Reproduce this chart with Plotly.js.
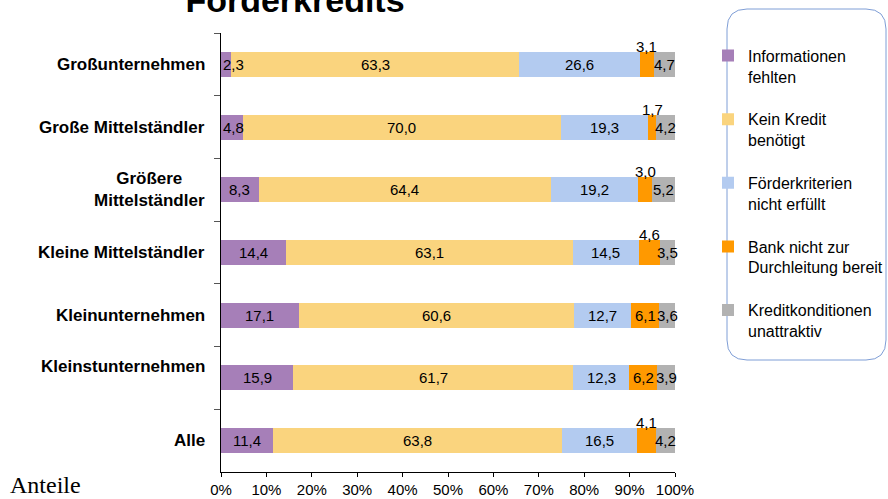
<!DOCTYPE html>
<html>
<head>
<meta charset="utf-8">
<script src="https://cdn.plot.ly/plotly-3.0.1.min.js"></script>
<style>html,body{margin:0;padding:0;background:#fff;}#chart{width:888px;height:499px;}</style>
</head>
<body>
<div id="chart"></div>
<script>
// Categories (top to bottom)
const categories = ['Großunternehmen','Große Mittelständler','Größere Mittelständler','Kleine Mittelständler','Kleinunternehmen','Kleinstunternehmen','Alle'];
const categoryLabels = ['Großunternehmen','Große Mittelständler','Größere<br>Mittelständler','Kleine Mittelständler','Kleinunternehmen','Kleinstunternehmen<br> ','Alle'];

// Series values (percent)
const informationenFehlten = [2.3, 4.8, 8.3, 14.4, 17.1, 15.9, 11.4];
const keinKreditBenoetigt  = [63.3, 70.0, 64.4, 63.1, 60.6, 61.7, 63.8];
const foerderkriterien     = [26.6, 19.3, 19.2, 14.5, 12.7, 12.3, 16.5];
const bankNichtBereit      = [3.1, 1.7, 3.0, 4.6, 6.1, 6.2, 4.1];
const konditionen          = [4.7, 4.2, 5.2, 3.5, 3.6, 3.9, 4.2];

const seriesNames = ['Informationen<br>fehlten','Kein Kredit<br>benötigt','Förderkriterien<br>nicht erfüllt','Bank nicht zur<br>Durchleitung bereit','Kreditkonditionen<br>unattraktiv'];
const xTickVals = [0,10,20,30,40,50,60,70,80,90,100];
const xTickText = ['0%','10%','20%','30%','40%','50%','60%','70%','80%','90%','100%'];

const seriesValues = [informationenFehlten, keinKreditBenoetigt, foerderkriterien, bankNichtBereit, konditionen];
const colors = ['#A67FB8','#FAD47E','#B3CBF0','#FF9900','#B2B2B2'];
const FONT = 'Arial, "Liberation Sans", sans-serif';

const traces = seriesValues.map((vals, i) => ({
  type: 'bar', orientation: 'h',
  y: categories, x: vals,
  name: seriesNames[i], legendgroup: 'g' + i,
  marker: {color: colors[i], line: {width: 0}},
  hoverinfo: 'skip'
}));

const fmt = v => v.toFixed(1).replace('.', ',');
const annotations = [];
categories.forEach((cat, ci) => {
  let start = 0;
  seriesValues.forEach((vals, si) => {
    const v = vals[ci];
    const center = start + v / 2;
    const a = {x: center, y: cat, xref: 'x', yref: 'y', text: fmt(v), showarrow: false,
      font: {family: FONT, size: 15, color: '#000'}, xanchor: 'center', yanchor: 'middle'};
    if (si === 0 && v < 5) { a.x = start; a.xanchor = 'left'; }
    if (si === 3 && v < 5) { a.yshift = 18; }
    annotations.push(a);
    start += v;
  });
  annotations.push({x: 0, y: cat, xref: 'paper', yref: 'y', text: '<b>' + categoryLabels[ci] + '</b>',
    showarrow: false, xanchor: 'right', yanchor: 'middle', align: 'center', xshift: -14,
    font: {family: FONT, size: 17, color: '#000'}});
});
annotations.push({x: 0, y: 0, xref: 'paper', yref: 'paper', text: 'Anteile', showarrow: false,
  xanchor: 'left', yanchor: 'middle', xshift: -213, yshift: -13,
  font: {family: '"Liberation Serif", "Times New Roman", serif', size: 24, color: '#000'}});

const layout = {
  width: 888, height: 499,
  margin: {l: 221, r: 213, t: 33, b: 27, autoexpand: false},
  paper_bgcolor: '#fff', plot_bgcolor: '#fff',
  barmode: 'stack', bargap: 0.6,
  showlegend: true,
  title: {text: '<b>Förderkredits</b>', x: 295/888, xref: 'container', xanchor: 'center',
    y: 1.0, yref: 'container', yanchor: 'middle', font: {family: FONT, size: 34, color: '#000'}},
  xaxis: {range: [0, 100], tickvals: xTickVals, ticktext: xTickText, showgrid: false, zeroline: false,
    showline: true, linecolor: '#000', linewidth: 1, ticks: 'outside', ticklen: 4, tickcolor: '#000',
    tickfont: {family: FONT, size: 15, color: '#000'}, fixedrange: true},
  yaxis: {type: 'category', categoryorder: 'array', categoryarray: categories, autorange: 'reversed',
    showticklabels: false, showgrid: false, zeroline: false, showline: true, linecolor: '#000', linewidth: 1,
    ticks: 'outside', tickson: 'boundaries', ticklen: 6, tickcolor: '#555', fixedrange: true},
  legend: {x: 1.0727, xanchor: 'left', y: 0.987, yanchor: 'top', traceorder: 'grouped', tracegroupgap: 19,
    valign: 'top', font: {family: FONT, size: 16, color: '#000'}, bgcolor: 'rgba(0,0,0,0)', borderwidth: 0},
  shapes: [{type: 'path', xref: 'paper', yref: 'paper',
    path: (function(){
      const px = x => (x - 221) / 454, py = y => 1 - (y - 33) / 439;
      const L = 727, R = 886, T = 9, B = 360, r = 20;
      return 'M' + px(L + r) + ',' + py(T) + ' L' + px(R - r) + ',' + py(T) +
        ' Q' + px(R) + ',' + py(T) + ' ' + px(R) + ',' + py(T + r) +
        ' L' + px(R) + ',' + py(B - r) + ' Q' + px(R) + ',' + py(B) + ' ' + px(R - r) + ',' + py(B) +
        ' L' + px(L + r) + ',' + py(B) + ' Q' + px(L) + ',' + py(B) + ' ' + px(L) + ',' + py(B - r) +
        ' L' + px(L) + ',' + py(T + r) + ' Q' + px(L) + ',' + py(T) + ' ' + px(L + r) + ',' + py(T) + ' Z';
    })(),
    line: {color: '#7F9ED6', width: 1}, fillcolor: 'rgba(0,0,0,0)'}],
  annotations: annotations
};

Plotly.newPlot('chart', traces, layout, {displayModeBar: false, staticPlot: true});
</script>
</body>
</html>
